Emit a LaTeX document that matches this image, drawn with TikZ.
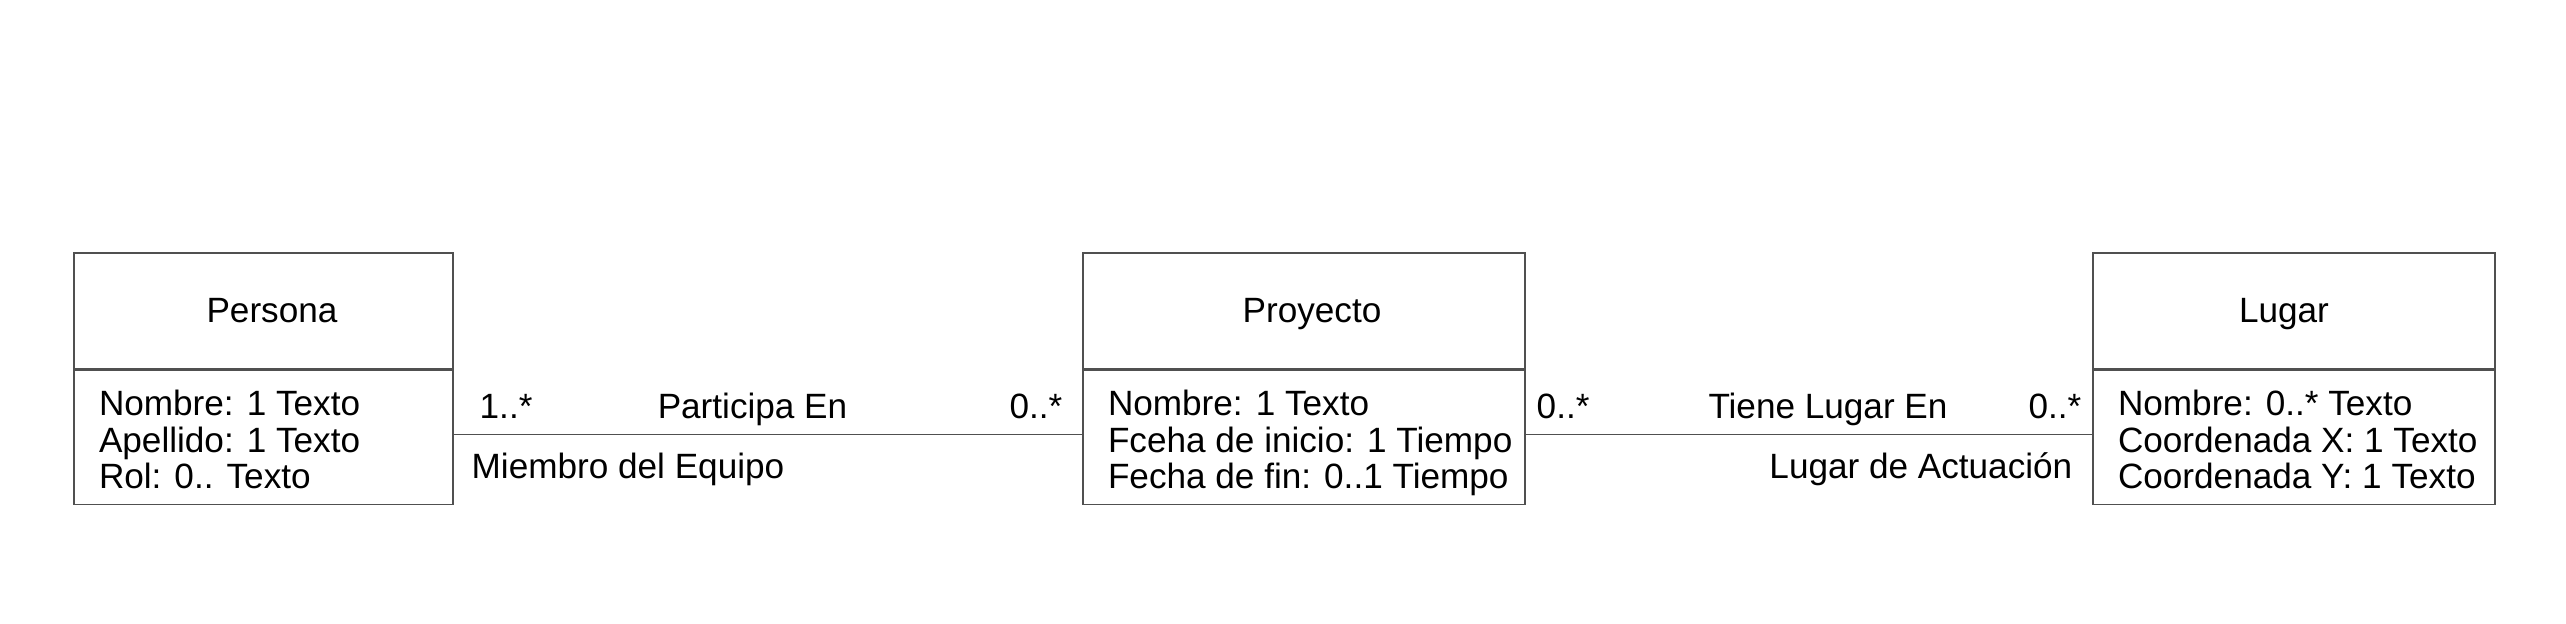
\documentclass[tikz,border=0pt]{standalone}
\usepackage{fontspec}
\setmainfont{Liberation Sans}
\usepackage{tikz}
\usetikzlibrary{positioning, calc}
\definecolor{edgegray}{RGB}{80,80,80}
\newcommand{\attrfont}{\fontsize{10}{10.4}\selectfont\lineskiplimit=-10pt\lineskip=0pt}
\newcommand{\labelfont}{\fontsize{10}{12}\selectfont}

\begin{document}
\begin{tikzpicture}[
    classhead/.style={draw=edgegray, line width=0.4pt, inner sep=0pt, minimum height=1.16cm, font=\labelfont, text height=7.2pt, text depth=0.5pt},
    classbody/.style={draw=edgegray, line width=0.4pt, inner sep=0pt, minimum height=1.34cm},
    attr/.style={anchor=base west, align=left, inner sep=0pt, font=\attrfont},
    assoc/.style={draw=edgegray, line width=0.4pt},
    role/.style={inner sep=0pt, font=\labelfont}
]
    \useasboundingbox (0,0) rectangle (25.66,-6.24);

    % Persona
    \node[classhead, minimum width=3.79cm] (persona) at (2.635,-3.11) {\hspace*{0.17cm}Persona};
    \node[classbody, minimum width=3.79cm, anchor=north] (personabody) at (persona.south) {};
    \node[attr] (personaattr) at ($(personabody.north west)+(0.25,-1.19)$) {Nombre: 1 Texto\\Apellido: 1 Texto\\Rol: 0.. Texto};

    % Proyecto
    \node[classhead, minimum width=4.42cm] (proyecto) at (13.04,-3.11) {\hspace*{0.16cm}Proyecto};
    \node[classbody, minimum width=4.42cm, anchor=north] (proyectobody) at (proyecto.south) {};
    \node[attr] (proyectoattr) at ($(proyectobody.north west)+(0.25,-1.19)$) {Nombre: 1 Texto\\Fceha de inicio: 1 Tiempo\\Fecha de fin: 0..1 Tiempo};

    % Lugar
    \node[classhead, minimum width=4.02cm] (lugar) at (22.94,-3.11) {Lugar\hspace*{0.2cm}};
    \node[classbody, minimum width=4.02cm, anchor=north] (lugarbody) at (lugar.south) {};
    \node[attr] (lugarattr) at ($(lugarbody.north west)+(0.25,-1.19)$) {Nombre: 0..* Texto\\Coordenada X: 1 Texto\\Coordenada Y: 1 Texto};

    % Associations
    \draw[assoc] ([yshift=0.03cm]personabody.east) -- ([yshift=0.03cm]proyectobody.west);
    \draw[assoc] ([yshift=0.03cm]proyectobody.east) -- ([yshift=0.03cm]lugarbody.west);

    % Participa En
    \node[role, anchor=base west] (multpersona) at (4.79,-4.19) {1..*};
    \node[role, anchor=base] (participa) at (7.525,-4.19) {Participa En};
    \node[role, anchor=base east] (multproyectoa) at (10.63,-4.19) {0..*};
    \node[role, anchor=base west] (miembro) at (4.71,-4.79) {Miembro del Equipo};

    % Tiene Lugar En
    \node[role, anchor=base west] (multproyectob) at (15.36,-4.19) {0..*};
    \node[role, anchor=base] (tiene) at (18.28,-4.19) {Tiene Lugar En};
    \node[role, anchor=base east] (multlugar) at (20.82,-4.19) {0..*};
    \node[role, anchor=base east] (actuacion) at (20.73,-4.79) {Lugar de Actuación};
\end{tikzpicture}
\end{document}
